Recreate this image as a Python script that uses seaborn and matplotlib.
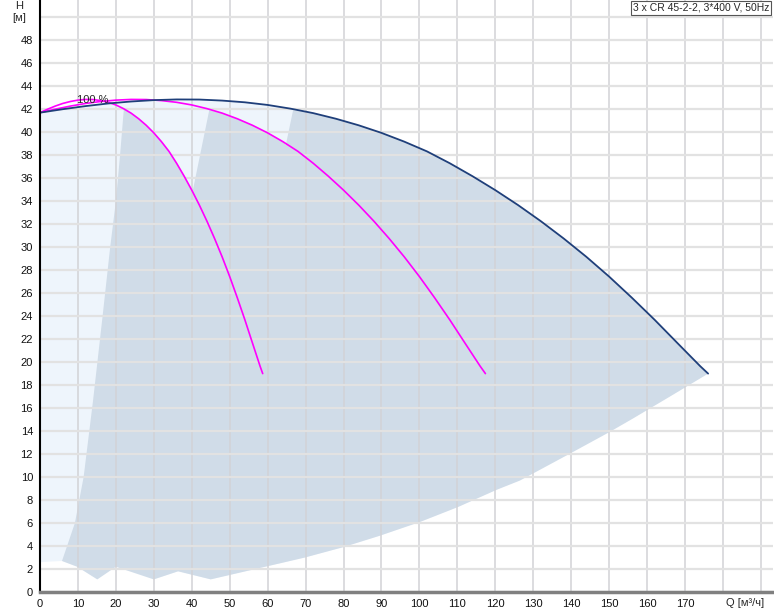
import numpy as np
import matplotlib
matplotlib.use("Agg")
import matplotlib.pyplot as plt
import seaborn as sns

# ----------
# pump curves (1, 2 and 3 pumps running)
# ----------
q_1pump = [0, 2, 4, 6, 8, 10, 12, 14, 16, 18, 20, 22, 24, 26, 28, 30,
           32, 34, 36, 38, 40, 42, 44, 46, 48, 50, 52, 54, 56, 58, 58.7]
h_1pump = [41.7, 42.0, 42.27, 42.5, 42.67, 42.79, 42.85, 42.84, 42.75, 42.6, 42.37, 42.05,
           41.66, 41.17, 40.6, 39.94, 39.18, 38.33, 37.3, 36.17, 34.96, 33.66, 32.26,
           30.76, 29.16, 27.44, 25.6, 23.68, 21.66, 19.65, 19.0]

q_2pump = [0, 4, 8, 12, 16, 20, 24, 28, 32, 36, 40, 44, 48, 52, 56, 60,
           64, 68, 72, 76, 80, 84, 88, 92, 96, 100, 104, 108, 112, 116, 117.4]
h_2pump = [41.7, 42.0, 42.27, 42.5, 42.67, 42.79, 42.85, 42.84, 42.75, 42.6, 42.37, 42.05,
           41.66, 41.17, 40.6, 39.94, 39.18, 38.33, 37.3, 36.17, 34.96, 33.66, 32.26,
           30.76, 29.16, 27.44, 25.6, 23.68, 21.66, 19.65, 19.0]

q_3pump = [0, 6, 12, 18, 24, 30, 36, 42, 48, 54, 60, 66, 72, 78, 84, 90,
           96, 102, 108, 114, 120, 126, 132, 138, 144, 150, 156, 162, 168, 174, 176.1]
h_3pump = [41.7, 42.0, 42.27, 42.5, 42.67, 42.79, 42.85, 42.84, 42.75, 42.6, 42.37, 42.05,
           41.66, 41.17, 40.6, 39.94, 39.18, 38.33, 37.3, 36.17, 34.96, 33.66, 32.26,
           30.76, 29.16, 27.44, 25.6, 23.68, 21.66, 19.65, 19.0]

# ----------
# edges of the operating range (dark area)
# ----------
left1_q = [5.8, 9.2, 11.5, 14.0, 16.5, 18.5, 20.0, 21.1, 22.1]
left1_h = [2.7, 6.0, 10.0, 16.7, 24.0, 30.0, 34.0, 38.0, 42.0]
left2_q = [40.2, 44.6]
left2_h = [34.8, 41.9]
left3_q = [64.8, 66.7]
left3_h = [38.9, 41.9]
bottom_q = [5.8, 9.8, 15.1, 20.0, 30.0, 36.4, 45.0, 63.3, 69.8, 79.9, 89.6, 100.2,
            110.2, 120.4, 126.5, 140, 150, 156.3, 166, 176.1]
bottom_h = [2.7, 2.2, 1.1, 2.2, 1.1, 1.8, 1.1, 2.5, 3.0, 3.9, 4.9, 6.1,
            7.4, 8.9, 9.7, 12.1, 13.9, 15.1, 17.0, 19.0]
start_q = [0, 0]
start_h = [2.6, 41.7]

x_ticks = list(range(0, 200, 10))
x_labels = [str(v) for v in range(0, 180, 10)] + ["", ""]
y_ticks = list(range(0, 52, 2))
y_labels = [str(v) for v in range(0, 50, 2)] + [""]

title = "3 x CR 45-2-2, 3*400 V, 50Hz"

sns.set_style("white")
plt.rcParams['font.family'] = ['Liberation Sans', 'DejaVu Sans']

fig = plt.figure(figsize=(7.74, 6.11), dpi=100)
ax = fig.add_axes([40/774, 19/611, 733/774, 592/611])

# ----------
# light area: everything under the 3 pump curve
# ----------
bq, bh = np.array(bottom_q), np.array(bottom_h)
light_x = np.concatenate([start_q, q_3pump, bq[::-1], [start_q[0]]])
light_y = np.concatenate([start_h, h_3pump, bh[::-1], [start_h[0]]])
ax.fill(light_x, light_y, color="#eef5fc", lw=0, zorder=1)

# ----------
# dark area: union of the three ranges
# ----------
q1, h1 = np.array(q_1pump), np.array(h_1pump)
q2, h2 = np.array(q_2pump), np.array(h_2pump)
q3, h3 = np.array(q_3pump), np.array(h_3pump)
m1 = (q1 > left1_q[-1]) & (q1 < left2_q[0])
m2 = (q2 > left2_q[-1]) & (q2 < left3_q[0])
m3 = q3 > left3_q[-1]
dark_x = np.concatenate([left1_q, q1[m1], left2_q, q2[m2], left3_q, q3[m3], bq[::-1]])
dark_y = np.concatenate([left1_h, h1[m1], left2_h, h2[m2], left3_h, h3[m3], bh[::-1]])
ax.fill(dark_x, dark_y, color="#d0dce8", lw=0, zorder=1)

# ----------
# curves
# ----------
sns.lineplot(x=q_1pump, y=h_1pump, sort=False, estimator=None, color="#ff00ff", lw=1.2, ax=ax, zorder=3)
sns.lineplot(x=q_2pump, y=h_2pump, sort=False, estimator=None, color="#ff00ff", lw=1.2, ax=ax, zorder=3)
sns.lineplot(x=q_3pump, y=h_3pump, sort=False, estimator=None, color="#1f3f7a", lw=1.3, ax=ax, zorder=3)

ax.text(14, 42.8, "100 %", fontsize=8, ha="center", va="center", zorder=4)

ax.set_xlim(0, 193.2)
ax.set_ylim(0, 51.5)
ax.set_xticks(x_ticks)
ax.set_xticklabels(x_labels)
ax.set_yticks(y_ticks)
ax.set_yticklabels(y_labels)
ax.set_axisbelow(False)
ax.xaxis.grid(True, color="#d2d2d6", lw=1.1)
ax.yaxis.grid(True, color="#e2e2e2", lw=1.6)
ax.tick_params(axis="both", labelsize=8, colors="#888888", labelcolor="#111111",
               length=3, width=1, direction="out", pad=2)

for s in ["top", "right"]:
    ax.spines[s].set_visible(False)
ax.spines["left"].set_color("black")
ax.spines["left"].set_linewidth(1.5)
ax.spines["bottom"].set_color("#808080")
ax.spines["bottom"].set_linewidth(2.5)
ax.spines["left"].set_zorder(5)
ax.spines["bottom"].set_zorder(5)

fig.text(19/774, 1 - 6/611, "H", fontsize=8, ha="center", va="center")
fig.text(19/774, 1 - 18/611, "[м]", fontsize=8, ha="center", va="center")
fig.text(745/774, 1 - 603/611, "Q [м³/ч]", fontsize=8, ha="center", va="center")
fig.text(701/774, 1 - 8/611, title, fontsize=7.5, ha="center", va="center",
         bbox=dict(boxstyle="square,pad=0.2", fc="white", ec="#555555", lw=0.8))

fig.savefig("out.png", dpi=100)
